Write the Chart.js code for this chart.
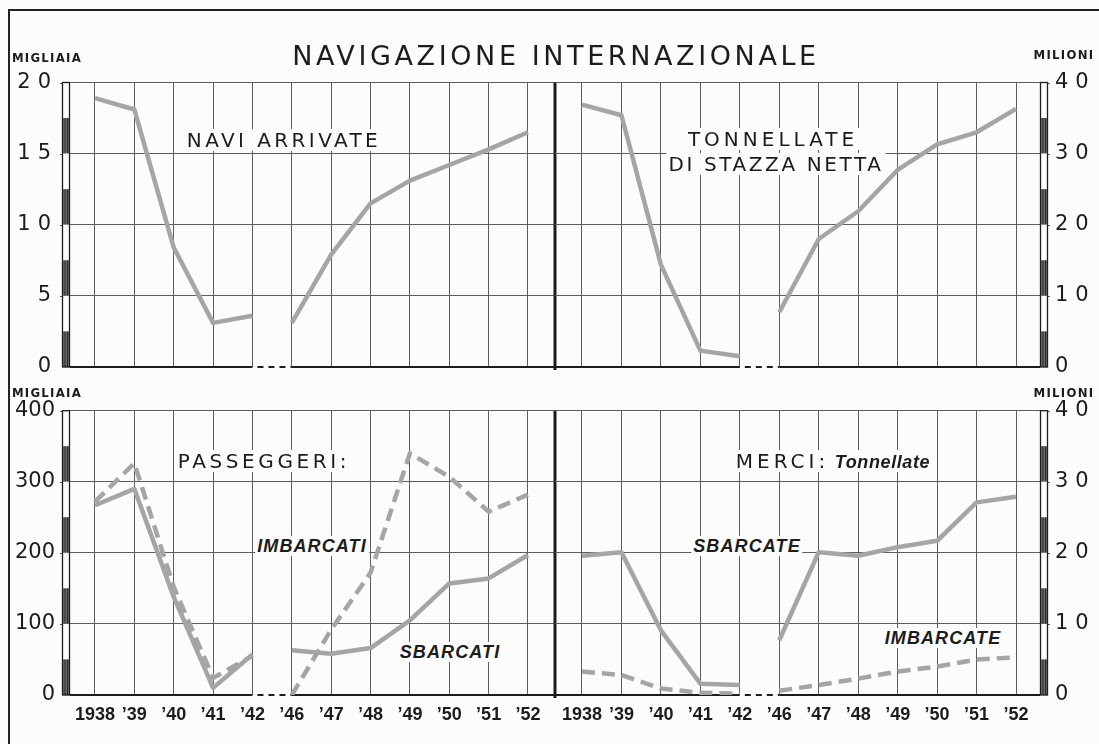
<!DOCTYPE html>
<html><head><meta charset="utf-8">
<script src="https://cdn.jsdelivr.net/npm/chart.js@4.4.1/dist/chart.umd.min.js"></script>
<style>
html,body{margin:0;padding:0;background:#fcfcfc;}
body{width:1099px;height:744px;position:relative;overflow:hidden;font-family:'DejaVu Sans',sans-serif;color:#1c1c1c;}
.frame{position:absolute;left:8px;top:9px;width:1200px;height:800px;border-left:2px solid #222;border-top:2px solid #222;}
canvas{position:absolute;}
.t{position:absolute;white-space:nowrap;transform:translate(-50%,-50%);line-height:1;background:#fcfcfc;padding:1px 2px;}
.unit{font-family:'DejaVu Sans Condensed','DejaVu Sans',sans-serif;font-weight:bold;font-size:13px;letter-spacing:1.3px;background:none;}
.lab{font-size:20px;}
.it{font-family:'Liberation Sans',sans-serif;font-weight:bold;font-style:italic;font-size:18px;letter-spacing:1.1px;}
</style></head>
<body>
<div class="frame"></div>
<canvas id="c1" width="558" height="322" style="left:0;top:60px"></canvas>
<canvas id="c2" width="554" height="322" style="left:545px;top:60px"></canvas>
<canvas id="c3" width="558" height="346" style="left:0;top:398px"></canvas>
<canvas id="c4" width="554" height="346" style="left:545px;top:398px"></canvas>

<div class="t" style="left:556px;top:55px;font-size:27px;letter-spacing:3.6px;background:none">NAVIGAZIONE INTERNAZIONALE</div>
<div class="t unit" style="left:47px;top:57px">MIGLIAIA</div>
<div class="t unit" style="left:1064px;top:54px">MILIONI</div>
<div class="t unit" style="left:47px;top:392px">MIGLIAIA</div>
<div class="t unit" style="left:1064px;top:392px">MILIONI</div>

<div class="t lab" style="left:284px;top:140px;letter-spacing:3.4px">NAVI ARRIVATE</div>
<div class="t lab" style="left:773px;top:139px;letter-spacing:4px">TONNELLATE</div>
<div class="t lab" style="left:776px;top:164px;letter-spacing:2.6px">DI STAZZA NETTA</div>
<div class="t lab" style="left:264px;top:461px;letter-spacing:3.6px">PASSEGGERI:</div>
<div class="t it" style="left:312px;top:546px">IMBARCATI</div>
<div class="t it" style="left:450px;top:652px">SBARCATI</div>
<div class="t" style="left:833px;top:461px"><span style="font-size:20px;letter-spacing:4px">MERCI:</span><span class="it" style="letter-spacing:0.6px"> Tonnellate</span></div>
<div class="t it" style="left:747px;top:546px">SBARCATE</div>
<div class="t it" style="left:943px;top:638px">IMBARCATE</div>

<script>
// ---- data ----
const years = ['1938','\u201939','\u201940','\u201941','\u201942','\u201946','\u201947','\u201948','\u201949','\u201950','\u201951','\u201952'];
const naviArrivate      = [18.9,18.1,8.4,3.1,3.6,3.1,7.9,11.5,13.1,14.2,15.3,16.5];   // migliaia
const tonnStazzaNetta   = [36.9,35.4,14.4,2.3,1.5,7.7,18.0,21.9,27.7,31.3,33.0,36.3]; // milioni
const passSbarcati      = [267,290,138,10,57,63,58,66,105,157,164,197];                // migliaia
const passImbarcati     = [272,326,152,24,55,0,92,172,340,307,258,282];                // migliaia
const merciSbarcate     = [19.6,20.1,9.1,1.6,1.4,7.7,20.1,19.6,20.8,21.7,27.1,27.9];   // milioni
const merciImbarcate    = [3.3,2.8,0.9,0.3,0.2,0.6,1.4,2.3,3.3,4.0,5.0,5.3];           // milioni
const ticksNavi   = [0,5,10,15,20];
const ticksMil    = [0,10,20,30,40];
const ticksPass   = [0,100,200,300,400];
const gapFrom = years.indexOf('\u201942');

const LINE = '#a5a5a5';
const GRID = '#5e5e5e';
const INK = '#1c1c1c';

const deco = {
  id: 'deco',
  beforeDraw(chart, a, o) { chart.ctx.letterSpacing = o.spacing || '0px'; },
  beforeDatasetsDraw(chart, a, o) {
    const {ctx, chartArea: ca, scales: {x, y}} = chart;
    ctx.letterSpacing = '0px';
    ctx.save();
    const y0 = y.getPixelForValue(0);
    const xa = x.getPixelForValue(gapFrom), xb = x.getPixelForValue(gapFrom + 1);
    ctx.strokeStyle = INK; ctx.lineWidth = 2;
    ctx.beginPath(); ctx.moveTo(ca.left, y0); ctx.lineTo(xa, y0);
    ctx.moveTo(xb, y0); ctx.lineTo(ca.right, y0); ctx.stroke();
    ctx.setLineDash([6, 5]);
    ctx.beginPath(); ctx.moveTo(xa + 5, y0); ctx.lineTo(xb, y0); ctx.stroke();
    ctx.restore();
  },
  afterDraw(chart, a, o) {
    const {ctx, chartArea: ca, scales: {y}} = chart;
    ctx.save();
    ctx.letterSpacing = '0px';
    if (o.divider) {
      ctx.strokeStyle = INK; ctx.lineWidth = 3;
      ctx.beginPath(); ctx.moveTo(ca.right, ca.top); ctx.lineTo(ca.right, ca.bottom + 3); ctx.stroke();
    }
    const w = 8;
    const bx = o.side === 'left' ? ca.left - w : ca.right;
    ctx.strokeStyle = GRID; ctx.lineWidth = 1;
    y.ticks.forEach(t => {
      if (t.value === 0) return;
      const py = Math.round(y.getPixelForValue(t.value)) + 0.5;
      ctx.beginPath();
      if (o.side === 'left') { ctx.moveTo(bx - 2, py); ctx.lineTo(bx, py); }
      else { ctx.moveTo(bx + w, py); ctx.lineTo(bx + w + 2, py); }
      ctx.stroke();
    });
    const max = y.max, seg = max / 8;
    for (let k = 0; k < 8; k++) {
      const p1 = y.getPixelForValue(max - k * seg), p2 = y.getPixelForValue(max - (k + 1) * seg);
      ctx.fillStyle = k % 2 === 0 ? '#fcfcfc' : '#6a6a6a';
      ctx.fillRect(bx, p1, w, p2 - p1);
      if (k % 2 === 1) {
        ctx.strokeStyle = '#2a2a2a'; ctx.lineWidth = 1;
        ctx.beginPath(); ctx.moveTo(bx + 3, p1); ctx.lineTo(bx + 3, p2);
        ctx.moveTo(bx + 5.5, p1); ctx.lineTo(bx + 5.5, p2); ctx.stroke();
      }
    }
    ctx.strokeStyle = INK; ctx.lineWidth = 1.3;
    ctx.strokeRect(bx + 0.5, ca.top, w - 1, ca.bottom - ca.top);
    ctx.restore();
  }
};

function panel(id, opt) {
  const datasets = opt.series.map(s => ({
    data: s.values.map((v, i) => ({x: i, y: v})),
    borderColor: LINE, borderWidth: 4.5, borderDash: s.dashed ? [13, 7] : [],
    pointRadius: 0, tension: 0, fill: false, borderCapStyle: 'butt', borderJoinStyle: 'round',
    segment: { borderColor: c => c.p0DataIndex === gapFrom ? 'rgba(0,0,0,0)' : undefined }
  }));
  return new Chart(document.getElementById(id), {
    type: 'line',
    data: { datasets },
    plugins: [deco],
    options: {
      responsive: false, animation: false, devicePixelRatio: 1,
      layout: { padding: opt.padding },
      plugins: { legend: {display: false}, tooltip: {enabled: false},
        deco: { side: opt.side, divider: opt.side === 'left', spacing: opt.spacing } },
      scales: {
        x: {
          type: 'linear', min: opt.xmin, max: opt.xmax,
          afterBuildTicks: s => { s.ticks = years.map((_, i) => ({value: i})); },
          afterFit: s => { s.height = opt.xh; },
          grid: { color: GRID, lineWidth: 1, drawTicks: false },
          border: { display: false },
          ticks: { display: opt.showX, z: 1, autoSkip: false, maxRotation: 0, padding: 9, color: INK,
            font: { family: 'Liberation Sans', size: 18, weight: 'bold' },
            callback: v => years[v] }
        },
        y: {
          position: opt.side, min: 0, max: opt.ticks[opt.ticks.length - 1],
          afterBuildTicks: s => { s.ticks = opt.ticks.map(v => ({value: v})); },
          afterFit: s => { s.width = opt.yw; },
          grid: { color: c => (c.tick && c.tick.value === 0) ? 'rgba(0,0,0,0)' : GRID, lineWidth: 1,
                  tickLength: opt.tickLen, tickColor: 'rgba(0,0,0,0)' },
          border: { display: false },
          ticks: { padding: 0, color: INK, font: { family: 'DejaVu Sans', size: 21 } }
        }
      }
    }
  });
}

const L = { xmin: -0.635, xmax: 11.686, side: 'left', yw: 70 };
const R = { xmin: -0.684, xmax: 11.608, side: 'right', yw: 59 };

panel('c1', Object.assign({}, L, { series: [{values: naviArrivate}], ticks: ticksNavi,
  padding: {top: 22.5, right: 3, left: 0, bottom: 0}, xh: 15, showX: false, spacing: '7px', tickLen: 12 }));
panel('c2', Object.assign({}, R, { series: [{values: tonnStazzaNetta}], ticks: ticksMil,
  padding: {top: 22.5, right: 0, left: 10, bottom: 0}, xh: 15, showX: false, spacing: '7px', tickLen: 15 }));
panel('c3', Object.assign({}, L, { series: [{values: passSbarcati}, {values: passImbarcati, dashed: true}], ticks: ticksPass,
  padding: {top: 12.7, right: 3, left: 0, bottom: 0}, xh: 49, showX: true, spacing: '0px', tickLen: 15 }));
panel('c4', Object.assign({}, R, { series: [{values: merciSbarcate}, {values: merciImbarcate, dashed: true}], ticks: ticksMil,
  padding: {top: 12.7, right: 0, left: 10, bottom: 0}, xh: 49, showX: true, spacing: '7px', tickLen: 15 }));
</script>
</body></html>
